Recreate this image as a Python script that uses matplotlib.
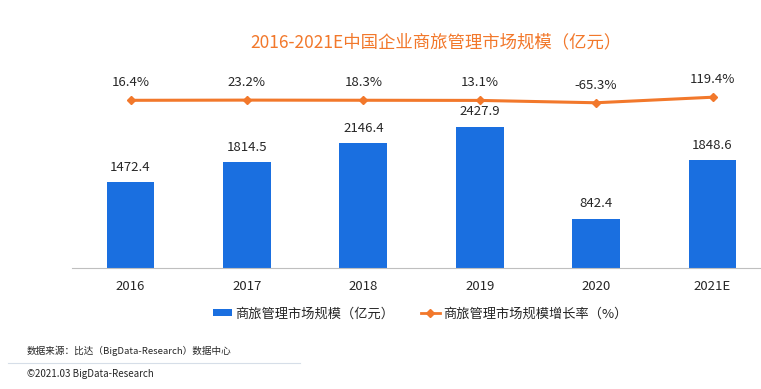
import matplotlib
matplotlib.use("Agg")
import matplotlib.pyplot as plt
from matplotlib.lines import Line2D
from matplotlib.patches import Patch

plt.rcParams['font.family'] = ['Noto Sans CJK SC', 'DejaVu Sans']

categories = ['2016', '2017', '2018', '2019', '2020', '2021E']
market_size = [1472.4, 1814.5, 2146.4, 2427.9, 842.4, 1848.6]
growth_rate = [16.4, 23.2, 18.3, 13.1, -65.3, 119.4]

title = '2016-2021E中国企业商旅管理市场规模（亿元）'
bar_label = '商旅管理市场规模（亿元）'
line_label = '商旅管理市场规模增长率（%）'
source_text = '数据来源：比达（BigData-Research）数据中心'
copyright_text = '©2021.03 BigData-Research'

W, H = 761, 389
fig = plt.figure(figsize=(W / 100, H / 100), dpi=100)

bar_color = '#1A6FE0'
line_color = '#F2782B'
text_color = '#262626'

# axes geometry in pixels
left_px, right_px = 72.3, 770.7
bottom_px, top_px = 267.7, 60.0
ax = fig.add_axes([left_px / W, 1 - bottom_px / H, (right_px - left_px) / W, (bottom_px - top_px) / H])
ax.set_xlim(-0.5, len(categories) - 0.5)
ax.set_ylim(0, 3576)

x = list(range(len(categories)))
bars = ax.bar(x, market_size, width=0.41, color=bar_color, zorder=2)
for xi, v in zip(x, market_size):
    ax.annotate(f'{v:.1f}', (xi, v), xytext=(0, 6), textcoords='offset points',
                ha='center', va='bottom', fontsize=9.5, color=text_color)

for s in ['top', 'right', 'left']:
    ax.spines[s].set_visible(False)
ax.spines['bottom'].set_color('#BFBFBF')
ax.spines['bottom'].set_linewidth(0.8)
ax.set_yticks([])
ax.set_xticks(x)
ax.set_xticklabels(categories, fontsize=9.5, color=text_color)
ax.tick_params(axis='x', length=0, pad=9)

ax2 = ax.twinx()
ax2.set_ylim(-5563, 1360)
ax2.plot(x, growth_rate, color=line_color, lw=2.2, marker='D', markersize=4.5, zorder=3)
for xi, v in zip(x, growth_rate):
    ax2.annotate(f'{v:.1f}%', (xi, v), xytext=(0, 8), textcoords='offset points',
                 ha='center', va='bottom', fontsize=9.5, color=text_color)
ax2.set_yticks([])
for s in ax2.spines.values():
    s.set_visible(False)

fig.text(436 / W, 1 - 42 / H, title, ha='center', va='center', fontsize=12.5, color=line_color)

handles = [Patch(facecolor=bar_color, edgecolor='none'),
           Line2D([], [], color=line_color, lw=2, marker='D', markersize=4)]
leg = fig.legend(handles, [bar_label, line_label], loc='center',
                 bbox_to_anchor=(420 / W, 1 - 314 / H), ncol=2, frameon=False,
                 fontsize=9.5, handlelength=1.5, handleheight=0.4, handletextpad=0.2,
                 columnspacing=2.0)
for t in leg.get_texts():
    t.set_color(text_color)

fig.text(27 / W, 1 - 351 / H, source_text, ha='left', va='center', fontsize=6.9, color=text_color)
fig.add_artist(Line2D([8 / W, 300 / W], [1 - 363 / H, 1 - 363 / H], color='#D6DEE8', lw=0.8))
fig.text(27 / W, 1 - 374 / H, copyright_text, ha='left', va='center', fontsize=7, color=text_color)

fig.savefig('out.png', dpi=100)
